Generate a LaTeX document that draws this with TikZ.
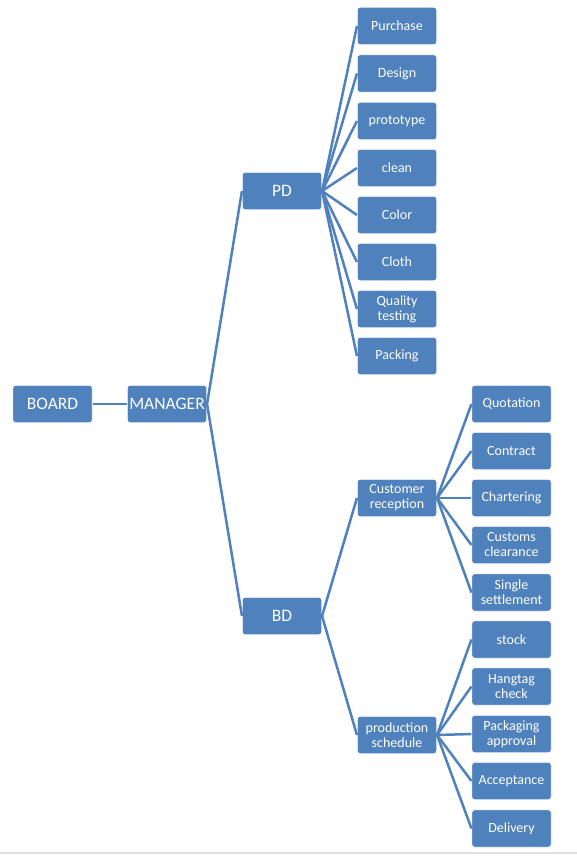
\documentclass[tikz,border=0pt]{standalone}
\usepackage{fontspec}
\setmainfont{Carlito}
\definecolor{sablue}{HTML}{4F81BD}
\begin{document}
\begin{tikzpicture}[x=1pt,y=-1pt,
 box/.style={draw=white, line width=0.6pt, fill=sablue, rounded corners=3pt,
   minimum width=79.5pt, minimum height=37.5pt, text=white, align=center,
   inner sep=1pt, font=\fontsize{14}{15}\selectfont},
 big/.style={box, font=\fontsize{17.5}{20}\selectfont},
 link/.style={draw=sablue, line width=2.5pt}]
\useasboundingbox (0,0) rectangle (577,856);
\draw[black!12, line width=1.5pt] (0,853) -- (577,853);

\node[big] (board) at (52.5,404) {BOARD};
\node[big] (manager) at (167,404) {MANAGER};
\node[big] (pd) at (282,191) {PD};
\node[big] (bd) at (282,616) {BD};

\node[box] (purchase) at (397,26) {Purchase};
\node[box] (design) at (397,73.5) {Design};
\node[box] (prototype) at (397,121) {prototype};
\node[box] (clean) at (397,168) {clean};
\node[box] (color) at (397,215) {Color};
\node[box] (cloth) at (397,262) {Cloth};
\node[box] (quality) at (397,309) {Quality\\testing};
\node[box] (packing) at (397,356) {Packing};

\node[box] (customer) at (397,498) {Customer\\reception};
\node[box] (production) at (397,735) {production\\schedule};

\node[box] (quotation) at (511.5,404) {Quotation};
\node[box] (contract) at (511.5,451) {Contract};
\node[box] (chartering) at (511.5,498) {Chartering};
\node[box] (customs) at (511.5,545) {Customs\\clearance};
\node[box] (single) at (511.5,592.5) {Single\\settlement};

\node[box] (stock) at (511.5,639.5) {stock};
\node[box] (hangtag) at (511.5,686.5) {Hangtag\\check};
\node[box] (packaging) at (511.5,734) {Packaging\\approval};
\node[box] (acceptance) at (511.5,781) {Acceptance};
\node[box] (delivery) at (511.5,828.5) {Delivery};

\draw[link] (board.east) -- (manager.west);
\foreach \c in {pd,bd} \draw[link] (manager.east) -- (\c.west);
\foreach \c in {purchase,design,prototype,clean,color,cloth,quality,packing}
  \draw[link] (pd.east) -- (\c.west);
\foreach \c in {customer,production} \draw[link] (bd.east) -- (\c.west);
\foreach \c in {quotation,contract,chartering,customs,single}
  \draw[link] (customer.east) -- (\c.west);
\foreach \c in {stock,hangtag,packaging,acceptance,delivery}
  \draw[link] (production.east) -- (\c.west);
\end{tikzpicture}
\end{document}
